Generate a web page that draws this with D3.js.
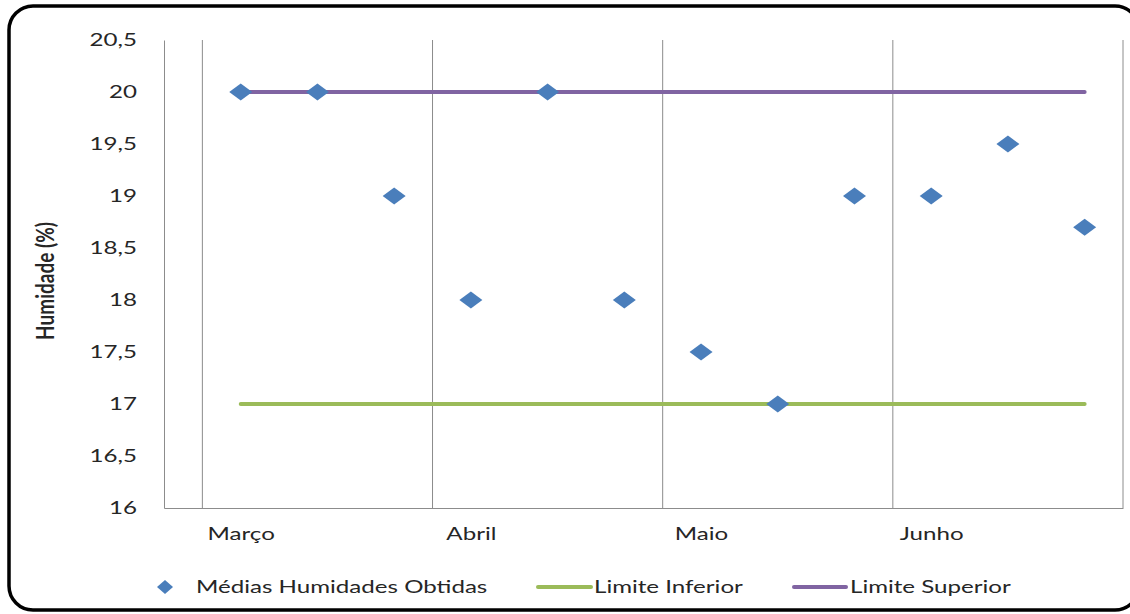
<!DOCTYPE html>
<html>
<head>
<meta charset="utf-8">
<script src="https://cdn.jsdelivr.net/npm/d3@7"></script>
<style>
  html, body { margin: 0; padding: 0; background: #fff; }
  svg { display: block; }
  text { font-family: Lato, "Open Sans", sans-serif; fill: #262626; }
</style>
</head>
<body>
<svg id="chart" width="1130" height="614"></svg>
<script>
// Monthly humidity averages (two samples per half-month, March–June)
const months = ["Março", "Abril", "Maio", "Junho"];
const monthPositions = [0, 3, 6, 9];
const humidity = [20, 20, 19, 18, 20, 18, 17.5, 17, 19, 19, 19.5, 18.7];
const lowerLimit = 17;
const upperLimit = 20;
const yTicks = [16, 16.5, 17, 17.5, 18, 18.5, 19, 19.5, 20, 20.5];
const gridPositions = [-0.5, 2.5, 5.5, 8.5, 11.5];

const svg = d3.select("#chart");
const FONT = 18;     // base font size
const SX = 1.34;     // horizontal stretch applied to all lettering

// Rounded frame
svg.append("rect")
  .attr("x", 9).attr("y", 6)
  .attr("width", 1130).attr("height", 604)
  .attr("rx", 24).attr("ry", 24)
  .attr("fill", "#fff").attr("stroke", "#000").attr("stroke-width", 3.5);

const plot = { left: 164, right: 1123, top: 40, bottom: 508 };

const x = d3.scaleLinear().domain([-1, 11.5]).range([plot.left, plot.right]);
const y = d3.scaleLinear().domain([16, 20.5]).range([plot.bottom, plot.top]);

// Vertical gridlines
svg.append("g").selectAll("line").data(gridPositions).join("line")
  .attr("x1", d => x(d)).attr("x2", d => x(d))
  .attr("y1", plot.top).attr("y2", plot.bottom)
  .attr("stroke", "#8c8c8c").attr("stroke-width", 1);

// Y axis
const yPad = 27;
const yAxis = d3.axisLeft(y).tickValues(yTicks).tickSize(0).tickPadding(yPad)
  .tickFormat(d => String(d).replace(".", ","));
const gy = svg.append("g").attr("transform", `translate(${plot.left},0)`).call(yAxis);
gy.select(".domain").attr("stroke", "#8c8c8c");
gy.selectAll("text")
  .attr("font-size", FONT).attr("fill", "#262626")
  .style("font-family", "Lato, 'Open Sans', sans-serif")
  .attr("x", -yPad / SX)
  .attr("transform", `scale(${SX},1)`);

// X axis
const xAxis = d3.axisBottom(x).tickValues(monthPositions).tickSize(0).tickPadding(19)
  .tickFormat((d, i) => months[i]);
const gx = svg.append("g").attr("transform", `translate(0,${plot.bottom})`).call(xAxis);
gx.select(".domain").attr("stroke", "#8c8c8c");
gx.selectAll("text")
  .attr("font-size", FONT).attr("fill", "#262626")
  .style("font-family", "Lato, 'Open Sans', sans-serif")
  .attr("transform", `scale(${SX},1)`);

// Y axis title
svg.append("text")
  .attr("transform", `translate(54,281) scale(${SX},1) rotate(-90)`)
  .attr("text-anchor", "middle")
  .attr("font-size", 19).attr("font-weight", "bold")
  .attr("fill", "#000")
  .text("Humidade (%)");

// Limit lines
const idx = humidity.map((_, i) => i);
const span = [idx[0], idx[idx.length - 1]];
const limitLine = v => d3.line().x(d => x(d)).y(() => y(v));
svg.append("path").datum(span)
  .attr("d", limitLine(lowerLimit))
  .attr("stroke", "#9BBB59").attr("stroke-width", 4).attr("fill", "none").attr("stroke-linecap", "round");
svg.append("path").datum(span)
  .attr("d", limitLine(upperLimit))
  .attr("stroke", "#8064A2").attr("stroke-width", 4).attr("fill", "none").attr("stroke-linecap", "round");

// Diamond markers
const diamond = "M-11.5,0L0,-8.5L11.5,0L0,8.5Z";
svg.append("g").selectAll("path").data(humidity).join("path")
  .attr("d", diamond)
  .attr("transform", (d, i) => `translate(${x(i)},${y(d)})`)
  .attr("fill", "#4A7EBB");

// Legend
const ly = 587;
const legend = svg.append("g");
const legendText = (px, label) => legend.append("text")
  .attr("transform", `translate(${px},${ly + 6}) scale(${SX},1)`)
  .attr("font-size", FONT).text(label);
legend.append("path").attr("d", "M-8,0L0,-7L8,0L0,7Z")
  .attr("transform", `translate(165,${ly})`).attr("fill", "#4A7EBB");
legendText(196, "Médias Humidades Obtidas");
legend.append("line").attr("x1", 538).attr("x2", 591).attr("y1", ly).attr("y2", ly)
  .attr("stroke", "#9BBB59").attr("stroke-width", 4).attr("stroke-linecap", "round");
legendText(594, "Limite Inferior");
legend.append("line").attr("x1", 794).attr("x2", 846).attr("y1", ly).attr("y2", ly)
  .attr("stroke", "#8064A2").attr("stroke-width", 4).attr("stroke-linecap", "round");
legendText(850, "Limite Superior");
</script>
</body>
</html>
